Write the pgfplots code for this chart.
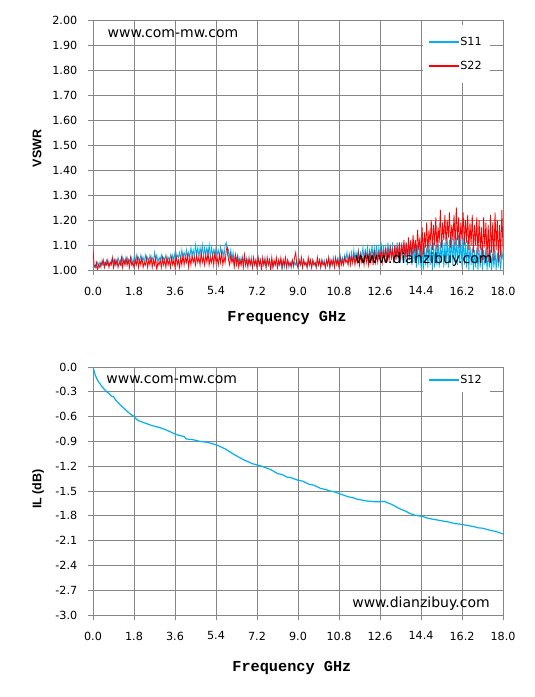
\documentclass[border=0pt]{standalone}
\usepackage{fontspec}
\setmainfont{DejaVu Sans}
\newfontfamily\monofont{Liberation Mono}
\newfontfamily\arialfont{Liberation Sans}
\usepackage{pgfplots}
\pgfplotsset{compat=1.18}
\definecolor{sc}{RGB}{0,176,240}
\definecolor{sred}{RGB}{255,0,0}
\definecolor{gridgray}{RGB}{134,134,134}
\pgfplotsset{
  myaxis/.style={
    scale only axis, width=410bp,
    xmin=0, xmax=18,
    xtick={0,1.8,3.6,5.4,7.2,9,10.8,12.6,14.4,16.2,18},
    xticklabels={0.0,1.8,3.6,5.4,7.2,9.0,10.8,12.6,14.4,16.2,18.0},
    grid=major,
    major grid style={gridgray, line width=0.8bp},
    axis line style={gridgray, line width=0.8bp},
    tick style={gridgray, line width=0.8bp},
    tick align=outside, tick pos=left, major tick length=5.5bp,
    ticklabel style={font=\fontsize{11.2bp}{13bp}\selectfont, inner sep=0pt, text=black},
    xticklabel shift=11bp,
    yticklabel shift=10bp,
    legend cell align=left,
  }
}
\begin{document}
\begin{tikzpicture}[x=1bp,y=1bp]
\path[use as bounding box] (0,0) rectangle (535,697);
% ---------------- top: VSWR ----------------
\begin{axis}[myaxis,
  at={(93bp,427bp)}, anchor=south west, height=250bp,
  ymin=1, ymax=2,
  ytick={1,1.1,1.2,1.3,1.4,1.5,1.6,1.7,1.8,1.9,2},
  yticklabels={1.00,1.10,1.20,1.30,1.40,1.50,1.60,1.70,1.80,1.90,2.00},
  xlabel={Frequency GHz}, ylabel={VSWR},
  every axis x label/.style={at={(axis description cs:0.473,0)}, anchor=base, yshift=-51.7bp, font=\monofont\bfseries\fontsize{15.25bp}{17bp}\selectfont},
  every axis y label/.style={at={(axis description cs:-0.1366,0.486)}, rotate=90, anchor=center, font=\arialfont\bfseries\fontsize{12.5bp}{14bp}\selectfont},
  legend style={at={(0.968,0.98)}, anchor=north east, draw=none, fill=white, font=\fontsize{11.2bp}{13bp}\selectfont, inner xsep=6bp, inner ysep=5bp,
    nodes={inner ysep=7bp}},
]
\addlegendimage{legend image code/.code={\color{sc}\fill (0bp,-0.6bp) rectangle (29bp,0.6bp);}}
\addlegendentry{S11}
\addlegendimage{legend image code/.code={\color{sred}\fill (0bp,-0.6bp) rectangle (29bp,0.6bp);}}
\addlegendentry{S22}
\addplot[sc, line width=0.8bp, forget plot] coordinates {
(0.00,1.02)(0.05,1.01)(0.10,1.02)(0.15,1.01)(0.20,1.03)(0.25,1.02)(0.30,1.03)(0.35,1.01)(0.40,1.04)(0.45,1.02)
(0.50,1.03)(0.55,1.02)(0.60,1.04)(0.65,1.02)(0.70,1.03)(0.75,1.02)(0.80,1.04)(0.85,1.03)(0.90,1.04)(0.95,1.02)
(1.00,1.04)(1.05,1.02)(1.10,1.05)(1.15,1.03)(1.20,1.04)(1.25,1.02)(1.30,1.05)(1.35,1.03)(1.40,1.04)(1.45,1.02)
(1.50,1.05)(1.55,1.03)(1.60,1.04)(1.65,1.03)(1.70,1.05)(1.75,1.02)(1.80,1.05)(1.85,1.03)(1.90,1.06)(1.95,1.03)
(2.00,1.05)(2.05,1.03)(2.10,1.06)(2.15,1.04)(2.20,1.05)(2.25,1.03)(2.30,1.06)(2.35,1.04)(2.40,1.05)(2.45,1.03)
(2.50,1.06)(2.55,1.04)(2.60,1.05)(2.65,1.03)(2.70,1.07)(2.75,1.04)(2.80,1.06)(2.85,1.03)(2.90,1.05)(2.95,1.04)
(3.00,1.06)(3.05,1.03)(3.10,1.05)(3.15,1.04)(3.20,1.06)(3.25,1.03)(3.30,1.05)(3.35,1.04)(3.40,1.06)(3.45,1.03)
(3.50,1.06)(3.55,1.04)(3.60,1.07)(3.65,1.04)(3.70,1.06)(3.75,1.05)(3.80,1.07)(3.85,1.04)(3.90,1.08)(3.95,1.05)
(4.00,1.07)(4.05,1.05)(4.10,1.08)(4.15,1.04)(4.20,1.07)(4.25,1.05)(4.30,1.09)(4.35,1.06)(4.40,1.08)(4.45,1.05)
(4.50,1.10)(4.55,1.06)(4.60,1.09)(4.65,1.05)(4.70,1.09)(4.75,1.06)(4.80,1.10)(4.85,1.05)(4.90,1.09)(4.95,1.06)
(5.00,1.09)(5.05,1.06)(5.10,1.10)(5.15,1.05)(5.20,1.09)(5.25,1.06)(5.30,1.08)(5.35,1.05)(5.40,1.09)(5.45,1.06)
(5.50,1.08)(5.55,1.05)(5.60,1.09)(5.65,1.06)(5.70,1.08)(5.75,1.05)(5.80,1.10)(5.85,1.11)(5.90,1.06)(5.95,1.08)
(6.00,1.05)(6.05,1.08)(6.10,1.04)(6.15,1.07)(6.20,1.03)(6.25,1.06)(6.30,1.04)(6.35,1.06)(6.40,1.03)(6.45,1.05)
(6.50,1.02)(6.55,1.05)(6.60,1.03)(6.65,1.06)(6.70,1.02)(6.75,1.05)(6.80,1.03)(6.85,1.04)(6.90,1.02)(6.95,1.05)
(7.00,1.01)(7.05,1.04)(7.10,1.02)(7.15,1.04)(7.20,1.01)(7.25,1.05)(7.30,1.02)(7.35,1.04)(7.40,1.01)(7.45,1.04)
(7.50,1.02)(7.55,1.05)(7.60,1.01)(7.65,1.04)(7.70,1.02)(7.75,1.04)(7.80,1.00)(7.85,1.04)(7.90,1.01)(7.95,1.03)
(8.00,1.02)(8.05,1.04)(8.10,1.01)(8.15,1.03)(8.20,1.02)(8.25,1.04)(8.30,1.00)(8.35,1.04)(8.40,1.01)(8.45,1.03)
(8.50,1.02)(8.55,1.04)(8.60,1.01)(8.65,1.03)(8.70,1.02)(8.75,1.04)(8.80,1.01)(8.85,1.03)(8.90,1.02)(8.95,1.04)
(9.00,1.01)(9.05,1.04)(9.10,1.02)(9.15,1.03)(9.20,1.01)(9.25,1.04)(9.30,1.02)(9.35,1.03)(9.40,1.01)(9.45,1.04)
(9.50,1.02)(9.55,1.03)(9.60,1.01)(9.65,1.04)(9.70,1.02)(9.75,1.03)(9.80,1.01)(9.85,1.04)(9.90,1.02)(9.95,1.04)
(10.00,1.01)(10.05,1.04)(10.10,1.02)(10.15,1.04)(10.20,1.01)(10.25,1.04)(10.30,1.02)(10.35,1.05)(10.40,1.01)(10.45,1.04)
(10.50,1.02)(10.55,1.05)(10.60,1.02)(10.65,1.04)(10.70,1.03)(10.75,1.05)(10.80,1.02)(10.85,1.06)(10.90,1.03)(10.95,1.05)
(11.00,1.03)(11.05,1.06)(11.10,1.04)(11.15,1.07)(11.20,1.03)(11.25,1.06)(11.30,1.04)(11.35,1.07)(11.40,1.03)(11.45,1.08)
(11.50,1.04)(11.55,1.07)(11.60,1.05)(11.65,1.08)(11.70,1.04)(11.75,1.07)(11.80,1.05)(11.85,1.09)(11.90,1.04)(11.95,1.08)
(12.00,1.05)(12.05,1.09)(12.10,1.04)(12.15,1.08)(12.20,1.05)(12.25,1.10)(12.30,1.04)(12.35,1.09)(12.40,1.05)(12.45,1.10)
(12.50,1.04)(12.55,1.09)(12.60,1.05)(12.65,1.11)(12.70,1.04)(12.75,1.10)(12.80,1.05)(12.85,1.09)(12.90,1.04)(12.95,1.11)
(13.00,1.05)(13.05,1.10)(13.10,1.04)(13.15,1.11)(13.20,1.03)(13.25,1.10)(13.30,1.05)(13.35,1.11)(13.40,1.04)(13.45,1.10)
(13.50,1.03)(13.55,1.11)(13.60,1.04)(13.65,1.10)(13.70,1.03)(13.75,1.11)(13.80,1.02)(13.85,1.10)(13.90,1.04)(13.95,1.11)
(14.00,1.02)(14.05,1.10)(14.10,1.03)(14.15,1.11)(14.20,1.01)(14.25,1.10)(14.30,1.02)(14.35,1.10)(14.40,1.01)(14.45,1.09)
(14.50,1.00)(14.55,1.10)(14.60,1.02)(14.65,1.09)(14.70,1.01)(14.75,1.11)(14.80,1.02)(14.85,1.10)(14.90,1.00)(14.95,1.11)
(15.00,1.01)(15.05,1.10)(15.10,1.02)(15.15,1.12)(15.20,1.01)(15.25,1.11)(15.30,1.03)(15.35,1.12)(15.40,1.01)(15.45,1.11)
(15.50,1.02)(15.55,1.13)(15.60,1.01)(15.65,1.12)(15.70,1.03)(15.75,1.13)(15.80,1.02)(15.85,1.14)(15.90,1.03)(15.95,1.13)
(16.00,1.02)(16.05,1.14)(16.10,1.03)(16.15,1.12)(16.20,1.01)(16.25,1.13)(16.30,1.02)(16.35,1.11)(16.40,1.01)(16.45,1.12)
(16.50,1.00)(16.55,1.10)(16.60,1.02)(16.65,1.09)(16.70,1.00)(16.75,1.08)(16.80,1.01)(16.85,1.09)(16.90,1.00)(16.95,1.08)
(17.00,1.01)(17.05,1.09)(17.10,1.00)(17.15,1.08)(17.20,1.02)(17.25,1.09)(17.30,1.00)(17.35,1.07)(17.40,1.01)(17.45,1.08)
(17.50,1.00)(17.55,1.07)(17.60,1.01)(17.65,1.08)(17.70,1.00)(17.75,1.07)(17.80,1.02)(17.85,1.06)(17.90,1.00)(17.95,1.08)
(18.00,1.04)
};
\addplot[sred, line width=0.8bp, forget plot] coordinates {
(0.00,1.08)(0.05,1.02)(0.10,1.01)(0.15,1.03)(0.20,1.00)(0.25,1.02)(0.30,1.01)(0.35,1.03)(0.40,1.02)(0.45,1.04)
(0.50,1.01)(0.55,1.03)(0.60,1.02)(0.65,1.04)(0.70,1.01)(0.75,1.03)(0.80,1.02)(0.85,1.05)(0.90,1.01)(0.95,1.04)
(1.00,1.02)(1.05,1.04)(1.10,1.01)(1.15,1.03)(1.20,1.02)(1.25,1.05)(1.30,1.01)(1.35,1.04)(1.40,1.02)(1.45,1.05)
(1.50,1.02)(1.55,1.04)(1.60,1.01)(1.65,1.05)(1.70,1.02)(1.75,1.03)(1.80,1.01)(1.85,1.04)(1.90,1.02)(1.95,1.05)
(2.00,1.01)(2.05,1.04)(2.10,1.02)(2.15,1.05)(2.20,1.01)(2.25,1.03)(2.30,1.02)(2.35,1.05)(2.40,1.01)(2.45,1.04)
(2.50,1.02)(2.55,1.05)(2.60,1.01)(2.65,1.04)(2.70,1.02)(2.75,1.05)(2.80,1.00)(2.85,1.03)(2.90,1.02)(2.95,1.04)
(3.00,1.01)(3.05,1.05)(3.10,1.02)(3.15,1.04)(3.20,1.01)(3.25,1.05)(3.30,1.02)(3.35,1.04)(3.40,1.01)(3.45,1.05)
(3.50,1.02)(3.55,1.04)(3.60,1.01)(3.65,1.06)(3.70,1.02)(3.75,1.04)(3.80,1.01)(3.85,1.05)(3.90,1.02)(3.95,1.06)
(4.00,1.02)(4.05,1.05)(4.10,1.03)(4.15,1.06)(4.20,1.01)(4.25,1.05)(4.30,1.02)(4.35,1.06)(4.40,1.03)(4.45,1.05)
(4.50,1.02)(4.55,1.06)(4.60,1.03)(4.65,1.05)(4.70,1.02)(4.75,1.07)(4.80,1.03)(4.85,1.05)(4.90,1.02)(4.95,1.06)
(5.00,1.03)(5.05,1.07)(5.10,1.02)(5.15,1.05)(5.20,1.03)(5.25,1.06)(5.30,1.02)(5.35,1.07)(5.40,1.03)(5.45,1.05)
(5.50,1.02)(5.55,1.06)(5.60,1.03)(5.65,1.07)(5.70,1.02)(5.75,1.05)(5.80,1.03)(5.85,1.08)(5.90,1.09)(5.95,1.04)
(6.00,1.02)(6.05,1.06)(6.10,1.03)(6.15,1.05)(6.20,1.01)(6.25,1.06)(6.30,1.02)(6.35,1.05)(6.40,1.01)(6.45,1.04)
(6.50,1.02)(6.55,1.05)(6.60,1.01)(6.65,1.06)(6.70,1.02)(6.75,1.04)(6.80,1.01)(6.85,1.05)(6.90,1.02)(6.95,1.04)
(7.00,1.01)(7.05,1.05)(7.10,1.02)(7.15,1.04)(7.20,1.01)(7.25,1.05)(7.30,1.02)(7.35,1.04)(7.40,1.00)(7.45,1.05)
(7.50,1.02)(7.55,1.04)(7.60,1.01)(7.65,1.05)(7.70,1.02)(7.75,1.04)(7.80,1.00)(7.85,1.05)(7.90,1.01)(7.95,1.04)
(8.00,1.02)(8.05,1.05)(8.10,1.01)(8.15,1.04)(8.20,1.02)(8.25,1.05)(8.30,1.01)(8.35,1.04)(8.40,1.02)(8.45,1.05)
(8.50,1.01)(8.55,1.04)(8.60,1.02)(8.65,1.03)(8.70,1.01)(8.75,1.04)(8.80,1.02)(8.85,1.05)(8.90,1.07)(8.95,1.02)
(9.00,1.01)(9.05,1.04)(9.10,1.02)(9.15,1.05)(9.20,1.01)(9.25,1.04)(9.30,1.02)(9.35,1.03)(9.40,1.01)(9.45,1.05)
(9.50,1.02)(9.55,1.04)(9.60,1.01)(9.65,1.04)(9.70,1.02)(9.75,1.03)(9.80,1.01)(9.85,1.05)(9.90,1.02)(9.95,1.04)
(10.00,1.01)(10.05,1.04)(10.10,1.02)(10.15,1.03)(10.20,1.01)(10.25,1.04)(10.30,1.02)(10.35,1.05)(10.40,1.01)(10.45,1.04)
(10.50,1.02)(10.55,1.04)(10.60,1.01)(10.65,1.05)(10.70,1.02)(10.75,1.04)(10.80,1.01)(10.85,1.05)(10.90,1.02)(10.95,1.04)
(11.00,1.02)(11.05,1.05)(11.10,1.03)(11.15,1.04)(11.20,1.02)(11.25,1.06)(11.30,1.02)(11.35,1.05)(11.40,1.03)(11.45,1.06)
(11.50,1.02)(11.55,1.05)(11.60,1.03)(11.65,1.07)(11.70,1.02)(11.75,1.06)(11.80,1.03)(11.85,1.05)(11.90,1.02)(11.95,1.07)
(12.00,1.03)(12.05,1.06)(12.10,1.02)(12.15,1.07)(12.20,1.03)(12.25,1.06)(12.30,1.02)(12.35,1.08)(12.40,1.03)(12.45,1.06)
(12.50,1.03)(12.55,1.07)(12.60,1.04)(12.65,1.08)(12.70,1.03)(12.75,1.07)(12.80,1.04)(12.85,1.09)(12.90,1.03)(12.95,1.08)
(13.00,1.04)(13.05,1.09)(13.10,1.05)(13.15,1.08)(13.20,1.03)(13.25,1.10)(13.30,1.04)(13.35,1.09)(13.40,1.05)(13.45,1.11)
(13.50,1.04)(13.55,1.10)(13.60,1.06)(13.65,1.12)(13.70,1.05)(13.75,1.11)(13.80,1.04)(13.85,1.13)(13.90,1.06)(13.95,1.12)
(14.00,1.05)(14.05,1.14)(14.10,1.07)(14.15,1.12)(14.20,1.06)(14.25,1.16)(14.30,1.08)(14.35,1.13)(14.40,1.05)(14.45,1.17)
(14.50,1.06)(14.55,1.15)(14.60,1.09)(14.65,1.19)(14.70,1.07)(14.75,1.16)(14.80,1.10)(14.85,1.20)(14.90,1.08)(14.95,1.18)
(15.00,1.10)(15.05,1.21)(15.10,1.08)(15.15,1.17)(15.20,1.11)(15.25,1.24)(15.30,1.09)(15.35,1.19)(15.40,1.12)(15.45,1.22)
(15.50,1.10)(15.55,1.20)(15.60,1.13)(15.65,1.23)(15.70,1.09)(15.75,1.18)(15.80,1.12)(15.85,1.22)(15.90,1.10)(15.95,1.25)
(16.00,1.12)(16.05,1.21)(16.10,1.09)(16.15,1.19)(16.20,1.12)(16.25,1.23)(16.30,1.10)(16.35,1.20)(16.40,1.11)(16.45,1.22)
(16.50,1.08)(16.55,1.19)(16.60,1.10)(16.65,1.22)(16.70,1.07)(16.75,1.18)(16.80,1.10)(16.85,1.21)(16.90,1.06)(16.95,1.20)
(17.00,1.08)(17.05,1.17)(17.10,1.04)(17.15,1.21)(17.20,1.09)(17.25,1.19)(17.30,1.05)(17.35,1.18)(17.40,1.03)(17.45,1.22)
(17.50,1.07)(17.55,1.19)(17.60,1.04)(17.65,1.23)(17.70,1.08)(17.75,1.20)(17.80,1.03)(17.85,1.18)(17.90,1.05)(17.95,1.24)
(18.00,1.08)
};
\end{axis}
% ---------------- bottom: IL ----------------
\begin{axis}[myaxis,
  at={(93bp,82bp)}, anchor=south west, height=248bp,
  ymin=-3, ymax=0,
  ytick={-3,-2.7,-2.4,-2.1,-1.8,-1.5,-1.2,-0.9,-0.6,-0.3,0},
  yticklabels={-3.0,-2.7,-2.4,-2.1,-1.8,-1.5,-1.2,-0.9,-0.6,-0.3,0.0},
  xlabel={Frequency GHz}, ylabel={IL (dB)},
  every axis x label/.style={at={(axis description cs:0.485,0)}, anchor=base, yshift=-56bp, font=\monofont\bfseries\fontsize{15.25bp}{17bp}\selectfont},
  every axis y label/.style={at={(axis description cs:-0.134,0.508)}, rotate=90, anchor=center, font=\arialfont\bfseries\fontsize{12.5bp}{14bp}\selectfont},
  legend style={at={(0.968,0.996)}, anchor=north east, draw=none, fill=white, font=\fontsize{11.2bp}{13bp}\selectfont, inner xsep=6bp, inner ysep=5bp},
]
\addlegendimage{legend image code/.code={\color{sc}\fill (0bp,-0.6bp) rectangle (29bp,0.6bp);}}
\addlegendentry{S12}
\addplot[sc, line width=1.2bp, forget plot] coordinates {
(0.00,0.00)(0.05,-0.05)(0.10,-0.10)(0.2,-0.16)(0.3,-0.20)(0.4,-0.24)(0.5,-0.27)(0.6,-0.30)(0.7,-0.32)(0.8,-0.35)
(0.9,-0.36)(1.0,-0.40)(1.2,-0.46)(1.4,-0.51)(1.6,-0.56)(1.8,-0.60)(1.9,-0.63)(2.0,-0.65)(2.3,-0.68)(2.6,-0.71)
(2.9,-0.73)(3.2,-0.76)(3.6,-0.81)(3.8,-0.83)(4.0,-0.84)(4.1,-0.87)(4.4,-0.88)(4.7,-0.90)(5.0,-0.91)(5.4,-0.94)
(5.8,-0.99)(6.2,-1.06)(6.6,-1.12)(7.0,-1.17)(7.4,-1.20)(7.8,-1.24)(8.1,-1.29)(8.3,-1.30)(8.5,-1.33)(8.7,-1.34)
(9.0,-1.37)(9.2,-1.38)(9.5,-1.42)(9.7,-1.43)(10.0,-1.47)(10.2,-1.48)(10.4,-1.50)(10.6,-1.51)(10.8,-1.53)(11.0,-1.55)
(11.2,-1.57)(11.4,-1.58)(11.6,-1.60)(11.8,-1.61)(12.0,-1.62)(12.2,-1.625)(12.4,-1.63)(12.6,-1.63)(12.8,-1.625)(12.9,-1.64)
(13.1,-1.66)(13.3,-1.69)(13.5,-1.72)(13.7,-1.74)(13.9,-1.77)(14.1,-1.79)(14.3,-1.80)(14.5,-1.81)(14.7,-1.83)(14.9,-1.84)
(15.1,-1.85)(15.3,-1.86)(15.5,-1.87)(15.7,-1.88)(15.9,-1.895)(16.1,-1.90)(16.3,-1.91)(16.5,-1.92)(16.7,-1.93)(16.9,-1.945)
(17.1,-1.95)(17.3,-1.965)(17.5,-1.98)(17.7,-1.99)(17.9,-2.01)(18.0,-2.02)
};
\end{axis}
% ---------------- watermarks ----------------
\node[anchor=base, font=\fontsize{14bp}{16bp}\selectfont] at (173bp,659.3bp) {www.com-mw.com};
\node[anchor=base, font=\fontsize{14bp}{16bp}\selectfont] at (423.8bp,433bp) {www.dianzibuy.com};
\node[anchor=base, font=\fontsize{14bp}{16bp}\selectfont] at (171.7bp,313.7bp) {www.com-mw.com};
\node[anchor=base, font=\fontsize{14bp}{16bp}\selectfont] at (421bp,89bp) {www.dianzibuy.com};
\end{tikzpicture}
\end{document}
